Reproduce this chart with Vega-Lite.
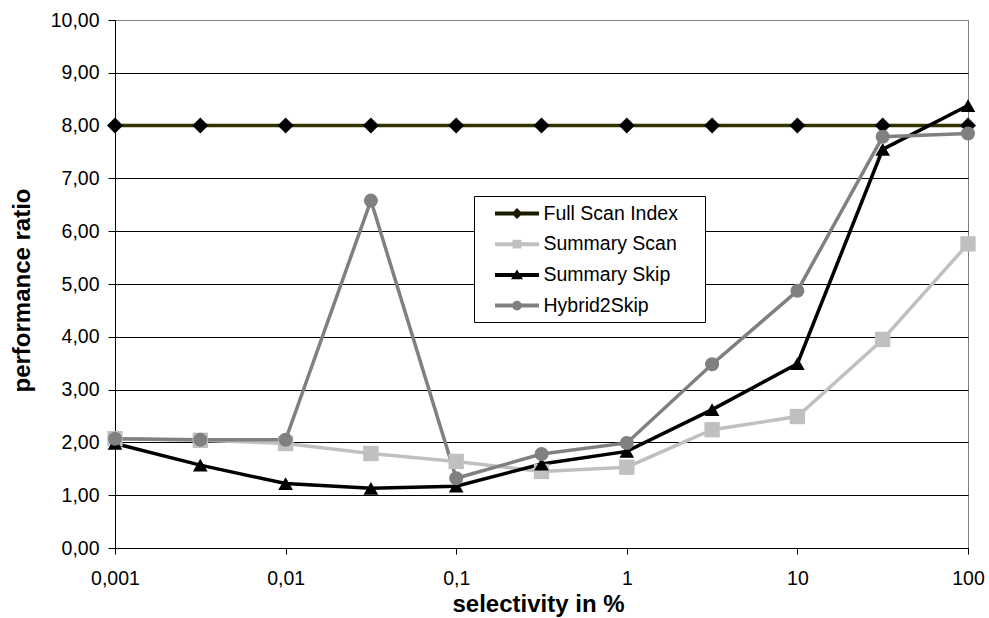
{
  "$schema": "https://vega.github.io/schema/vega-lite/v6.json",
  "autosize": {"type": "none"},
  "width": 853,
  "height": 528,
  "padding": {"left": 115, "top": 20, "right": 21, "bottom": 70},
  "background": "white",
  "config": {
    "font": "Liberation Sans",
    "view": {"stroke": "#808080", "strokeWidth": 1},
    "legend": {"symbolStrokeWidth": 0}
  },
  "data": {
    "values": [
      {"sel": 0.001, "series": "Full Scan Index", "ratio": 8.0},
      {"sel": 0.0031623, "series": "Full Scan Index", "ratio": 8.0},
      {"sel": 0.01, "series": "Full Scan Index", "ratio": 8.0},
      {"sel": 0.031623, "series": "Full Scan Index", "ratio": 8.0},
      {"sel": 0.1, "series": "Full Scan Index", "ratio": 8.0},
      {"sel": 0.31623, "series": "Full Scan Index", "ratio": 8.0},
      {"sel": 1, "series": "Full Scan Index", "ratio": 8.0},
      {"sel": 3.1623, "series": "Full Scan Index", "ratio": 8.0},
      {"sel": 10, "series": "Full Scan Index", "ratio": 8.0},
      {"sel": 31.623, "series": "Full Scan Index", "ratio": 8.0},
      {"sel": 100, "series": "Full Scan Index", "ratio": 8.0},
      {"sel": 0.001, "series": "Summary Scan", "ratio": 2.07},
      {"sel": 0.0031623, "series": "Summary Scan", "ratio": 2.04},
      {"sel": 0.01, "series": "Summary Scan", "ratio": 1.98},
      {"sel": 0.031623, "series": "Summary Scan", "ratio": 1.79},
      {"sel": 0.1, "series": "Summary Scan", "ratio": 1.64},
      {"sel": 0.31623, "series": "Summary Scan", "ratio": 1.45},
      {"sel": 1, "series": "Summary Scan", "ratio": 1.53},
      {"sel": 3.1623, "series": "Summary Scan", "ratio": 2.24},
      {"sel": 10, "series": "Summary Scan", "ratio": 2.49},
      {"sel": 31.623, "series": "Summary Scan", "ratio": 3.95},
      {"sel": 100, "series": "Summary Scan", "ratio": 5.76},
      {"sel": 0.001, "series": "Summary Skip", "ratio": 1.98},
      {"sel": 0.0031623, "series": "Summary Skip", "ratio": 1.57},
      {"sel": 0.01, "series": "Summary Skip", "ratio": 1.22},
      {"sel": 0.031623, "series": "Summary Skip", "ratio": 1.13},
      {"sel": 0.1, "series": "Summary Skip", "ratio": 1.17},
      {"sel": 0.31623, "series": "Summary Skip", "ratio": 1.59},
      {"sel": 1, "series": "Summary Skip", "ratio": 1.83},
      {"sel": 3.1623, "series": "Summary Skip", "ratio": 2.62},
      {"sel": 10, "series": "Summary Skip", "ratio": 3.49},
      {"sel": 31.623, "series": "Summary Skip", "ratio": 7.55},
      {"sel": 100, "series": "Summary Skip", "ratio": 8.38},
      {"sel": 0.001, "series": "Hybrid2Skip", "ratio": 2.07},
      {"sel": 0.0031623, "series": "Hybrid2Skip", "ratio": 2.05},
      {"sel": 0.01, "series": "Hybrid2Skip", "ratio": 2.05},
      {"sel": 0.031623, "series": "Hybrid2Skip", "ratio": 6.58},
      {"sel": 0.1, "series": "Hybrid2Skip", "ratio": 1.32},
      {"sel": 0.31623, "series": "Hybrid2Skip", "ratio": 1.78},
      {"sel": 1, "series": "Hybrid2Skip", "ratio": 1.99},
      {"sel": 3.1623, "series": "Hybrid2Skip", "ratio": 3.48},
      {"sel": 10, "series": "Hybrid2Skip", "ratio": 4.87},
      {"sel": 31.623, "series": "Hybrid2Skip", "ratio": 7.79},
      {"sel": 100, "series": "Hybrid2Skip", "ratio": 7.85}
    ]
  },
  "encoding": {
    "x": {
      "field": "sel",
      "type": "quantitative",
      "scale": {"type": "log", "domain": [0.001, 100], "nice": false},
      "axis": {
        "values": [0.001, 0.01, 0.1, 1, 10, 100],
        "format": "~g",
        "labelExpr": "replace(datum.label, '.', ',')",
        "title": "selectivity in %",
        "grid": false,
        "domainColor": "black",
        "domainWidth": 1,
        "tickColor": "black",
        "tickSize": 6,
        "labelFontSize": 19.5,
        "labelColor": "black",
        "labelBaseline": "alphabetic",
        "labelPadding": 30,
        "labelFlush": false,
        "labelOverlap": false,
        "titleFontSize": 24,
        "titleFontWeight": "bold",
        "titleColor": "black",
        "titleBaseline": "alphabetic",
        "titleX": 423,
        "titleY": 63
      }
    },
    "y": {
      "field": "ratio",
      "type": "quantitative",
      "scale": {"domain": [0, 10], "nice": false},
      "axis": {
        "values": [0, 1, 2, 3, 4, 5, 6, 7, 8, 9, 10],
        "labelExpr": "replace(format(datum.value, '.2f'), '.', ',')",
        "title": "performance ratio",
        "grid": true,
        "gridColor": {"condition": {"test": "datum.value == 10", "value": "#808080"}, "value": "black"},
        "gridWidth": 1,
        "gridOpacity": 1,
        "domainColor": "black",
        "tickColor": "black",
        "tickSize": 7,
        "labelFontSize": 19.5,
        "labelColor": "black",
        "labelPadding": 9,
        "labelFlush": false,
        "labelOverlap": false,
        "titleFontSize": 24,
        "titleFontWeight": "bold",
        "titleColor": "black",
        "titleBaseline": "alphabetic",
        "titleAlign": "center",
        "titleX": -86,
        "titleY": 270
      }
    }
  },
  "layer": [
    {
      "mark": {"type": "line", "strokeWidth": 3.5, "clip": false},
      "encoding": {
        "color": {
          "field": "series",
          "type": "nominal",
          "scale": {
            "domain": ["Full Scan Index", "Summary Scan", "Summary Skip", "Hybrid2Skip"],
            "range": ["#333300", "#c0c0c0", "#000000", "#808080"]
          },
          "legend": null
        }
      }
    },
    {
      "mark": {"type": "point", "filled": true, "opacity": 1, "clip": false, "strokeWidth": 0},
      "encoding": {
        "fill": {
          "field": "series",
          "type": "nominal",
          "scale": {
            "domain": ["Full Scan Index", "Summary Scan", "Summary Skip", "Hybrid2Skip"],
            "range": ["#000000", "#c0c0c0", "#000000", "#808080"]
          },
          "legend": null
        },
        "shape": {
          "field": "series",
          "type": "nominal",
          "scale": {
            "domain": ["Full Scan Index", "Summary Scan", "Summary Skip", "Hybrid2Skip"],
            "range": ["diamond", "square", "triangle-up", "circle"]
          },
          "legend": null
        },
        "size": {
          "field": "series",
          "type": "nominal",
          "scale": {
            "domain": ["Full Scan Index", "Summary Scan", "Summary Skip", "Hybrid2Skip"],
            "range": [256, 196, 250, 230]
          },
          "legend": null
        }
      }
    },
    {
      "transform": [{"filter": "datum.ratio > 100"}],
      "mark": {"type": "point", "filled": true, "opacity": 1},
      "encoding": {
        "fill": {
          "field": "series",
          "type": "nominal",
          "scale": {
            "domain": ["Full Scan Index", "Summary Scan", "Summary Skip", "Hybrid2Skip"],
            "range": ["#1a1a00", "#c0c0c0", "#000000", "#808080"]
          },
          "legend": {
            "title": ".",
            "titleOrient": "right",
            "titleColor": "white",
            "titleFontSize": 10,
            "titlePadding": 18,
            "orient": "none",
            "legendX": 359,
            "legendY": 176,
            "padding": 6.5,
            "strokeColor": "black",
            "fillColor": "white",
            "symbolSize": 484,
            "symbolOffset": 25.5,
            "symbolStrokeWidth": 0,
            "labelOffset": 15.5,
            "labelFontSize": 19.5,
            "labelFont": "Liberation Sans",
            "labelColor": "black",
            "labelLimit": 400,
            "rowPadding": 9.7
          }
        },
        "shape": {
          "field": "series",
          "type": "nominal",
          "scale": {
            "domain": ["Full Scan Index", "Summary Scan", "Summary Skip", "Hybrid2Skip"],
            "range": [
              "M-2,-0.18L2,-0.18L2,0.18L-2,0.18Z M0,-0.5L0.5,0L0,0.5L-0.5,0Z",
              "M-2,-0.18L2,-0.18L2,0.18L-2,0.18Z M-0.4,-0.4L0.4,-0.4L0.4,0.4L-0.4,0.4Z",
              "M-2,-0.18L2,-0.18L2,0.18L-2,0.18Z M0,-0.5L0.55,0.4L-0.55,0.4Z",
              "M-2,-0.18L2,-0.18L2,0.18L-2,0.18Z M-0.45,0A0.45,0.45 0 1,1 0.45,0A0.45,0.45 0 1,1 -0.45,0Z"
            ]
          },
          "legend": {
            "title": ".",
            "titleOrient": "right",
            "titleColor": "white",
            "titleFontSize": 10,
            "titlePadding": 18,
            "orient": "none",
            "legendX": 359,
            "legendY": 176,
            "padding": 6.5,
            "strokeColor": "black",
            "fillColor": "white",
            "symbolSize": 484,
            "symbolOffset": 25.5,
            "symbolStrokeWidth": 0,
            "labelOffset": 15.5,
            "labelFontSize": 19.5,
            "labelFont": "Liberation Sans",
            "labelColor": "black",
            "labelLimit": 400,
            "rowPadding": 9.7
          }
        }
      }
    }
  ],
  "resolve": {
    "scale": {"shape": "independent", "fill": "independent"},
    "legend": {"shape": "independent", "fill": "independent"}
  }
}
